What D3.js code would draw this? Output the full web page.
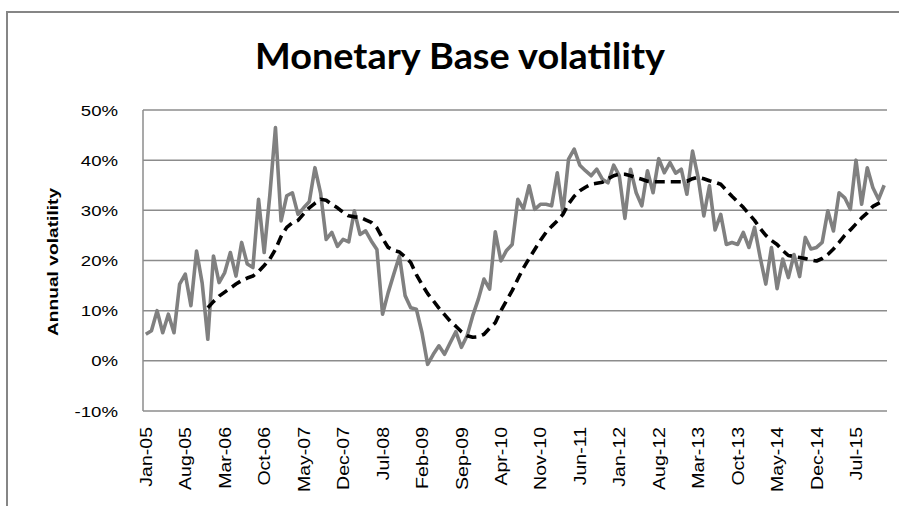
<!DOCTYPE html>
<html>
<head>
<meta charset="utf-8">
<script src="https://cdn.jsdelivr.net/npm/d3@7"></script>
<style>
  body { margin: 0; background: #fff; }
  svg { display: block; }
</style>
</head>
<body>
<div id="chart"></div>
<script>
// monthly categories Jan-05 .. Dec-15
const months = d3.timeMonth.range(new Date(2005, 0, 1), new Date(2016, 0, 1));
const fmt = d3.timeFormat("%b-%y");

// annual volatility (%)
const volatility = [
  5.3, 6.0, 10.0, 5.6, 9.3, 5.6, 15.3, 17.3, 11.0, 21.9, 15.5, 4.3,
  20.9, 15.6, 17.6, 21.6, 16.9, 23.6, 19.3, 18.6, 32.2, 21.6, 33.0, 46.5,
  27.9, 32.9, 33.5, 29.2, 30.5, 31.7, 38.5, 33.5, 24.2, 25.6, 22.8, 24.2,
  23.7, 29.9, 25.2, 25.9, 23.9, 22.2, 9.3, 13.6, 17.3, 20.9, 13.0, 10.6,
  10.3, 5.6, -0.7, 1.3, 3.0, 1.3, 3.6, 5.8, 2.7, 5.0, 9.0, 12.3,
  16.3, 14.3, 25.7, 19.9, 22.0, 23.2, 32.2, 30.3, 34.9, 30.2, 31.2, 31.2,
  30.9, 37.5, 29.6, 40.2, 42.2, 39.0, 37.9, 36.9, 38.2, 36.2, 35.5, 39.0,
  36.9, 28.4, 38.2, 33.5, 30.9, 37.9, 33.5, 40.3, 37.5, 39.5, 37.4, 38.2,
  33.2, 41.8, 36.5, 28.9, 34.9, 26.1, 29.2, 23.2, 23.6, 23.2, 25.6, 22.6,
  26.6, 20.6, 15.3, 22.6, 14.4, 20.3, 16.6, 21.2, 16.8, 24.6, 22.3, 22.6,
  23.6, 29.9, 25.9, 33.5, 32.5, 30.2, 40.0, 31.2, 38.5, 34.5, 32.2, 35.0
];

// dashed trend line (%), starts Dec-05
const trend = [
  null, null, null, null, null, null, null, null, null, null, null, 10.6,
  11.8, 12.9, 13.7, 14.5, 15.3, 16.0, 16.5, 16.9, 17.8, 19.0, 20.3, 22.2,
  24.8, 26.6, 27.5, 28.0, 29.3, 30.5, 31.4, 32.2, 32.0, 31.2, 30.5, 29.6,
  28.9, 28.7, 28.6, 28.1, 27.6, 26.5, 24.4, 22.6, 22.0, 21.7, 20.7, 19.6,
  17.2, 15.2, 13.4, 12.0, 10.5, 9.2, 7.9, 6.9, 5.8, 5.0, 4.7, 4.8,
  5.3, 6.5, 7.6, 10.0, 12.0, 14.0, 16.3, 18.5, 20.4, 22.2, 24.0, 25.6,
  26.8, 27.9, 29.2, 31.3, 32.8, 33.9, 34.6, 35.2, 35.4, 35.6, 36.3, 36.9,
  37.2, 37.2, 36.9, 36.5, 36.2, 35.8, 35.7, 35.7, 35.7, 35.7, 35.7, 35.7,
  35.8, 36.3, 36.6, 36.3, 35.9, 35.6, 35.2, 34.0, 32.8, 31.7, 30.6, 29.3,
  28.0, 26.4, 25.0, 24.0, 23.2, 22.0, 21.0, 20.8, 20.6, 20.4, 20.1, 19.9,
  20.4, 21.2, 22.3, 23.6, 25.0, 26.1, 27.3, 28.5, 29.5, 30.8, 31.4, 32.0
];

const tickLabels = ["Jan-05", "Aug-05", "Mar-06", "Oct-06", "May-07", "Dec-07", "Jul-08",
  "Feb-09", "Sep-09", "Apr-10", "Nov-10", "Jun-11", "Jan-12", "Aug-12", "Mar-13",
  "Oct-13", "May-14", "Dec-14", "Jul-15"];
const yTicks = [-10, 0, 10, 20, 30, 40, 50];

const width = 899, height = 506;
const plot = { left: 143, right: 887, top: 110, bottom: 411 };

const svg = d3.select("#chart")
    .append("svg")
    .attr("width", width)
    .attr("height", height);

// chart frame
svg.append("rect")
    .attr("x", 7).attr("y", 12)
    .attr("width", 910).attr("height", 520)
    .attr("fill", "#fff")
    .attr("stroke", "#868686")
    .attr("stroke-width", 2);

const x = d3.scaleBand()
    .domain(d3.range(months.length))
    .range([plot.left, plot.right])
    .padding(0);
const xc = (i) => x(i) + x.bandwidth() / 2;

const y = d3.scaleLinear()
    .domain([-10, 50])
    .range([plot.bottom, plot.top]);

// gridlines
svg.append("g")
    .selectAll("line")
    .data(yTicks)
    .enter()
    .append("line")
    .attr("x1", plot.left).attr("x2", plot.right)
    .attr("y1", (d) => y(d)).attr("y2", (d) => y(d))
    .attr("stroke", "#8c8c8c")
    .attr("stroke-width", 1.5);

// y axis line
svg.append("line")
    .attr("x1", plot.left).attr("x2", plot.left)
    .attr("y1", plot.top).attr("y2", plot.bottom)
    .attr("stroke", "#8c8c8c")
    .attr("stroke-width", 1.5);

// y tick labels
svg.append("g")
    .selectAll("text")
    .data(yTicks)
    .enter()
    .append("text")
    .attr("transform", (d) => `translate(118,${y(d)}) scale(1.2,1)`)
    .attr("dy", "0.36em")
    .attr("text-anchor", "end")
    .attr("font-family", "Liberation Sans, Arial, sans-serif")
    .attr("font-size", 15.5)
    .attr("fill", "#000")
    .text((d) => d + "%");

// x tick labels
const labelIdx = months.map((m, i) => i).filter((i) => tickLabels.includes(fmt(months[i])));
svg.append("g")
    .selectAll("text")
    .data(labelIdx)
    .enter()
    .append("text")
    .attr("transform", (i) => `translate(${xc(i)},427) rotate(-90) scale(1.15,1)`)
    .attr("dy", "0.36em")
    .attr("text-anchor", "end")
    .attr("font-family", "Liberation Sans, Arial, sans-serif")
    .attr("font-size", 17)
    .attr("fill", "#000")
    .text((i) => fmt(months[i]));

// axis title
svg.append("text")
    .attr("transform", "translate(53,262) rotate(-90) scale(1.28,1)")
    .attr("dy", "0.36em")
    .attr("text-anchor", "middle")
    .attr("font-family", "Liberation Sans, Arial, sans-serif")
    .attr("font-weight", "bold")
    .attr("font-size", 15)
    .attr("fill", "#000")
    .text("Annual volatility");

// title
svg.append("text")
    .attr("x", 460).attr("y", 69)
    .attr("text-anchor", "middle")
    .attr("font-family", "Lato, Open Sans, sans-serif")
    .attr("font-weight", "bold")
    .attr("font-size", 36)
    .attr("textLength", 410)
    .attr("lengthAdjust", "spacingAndGlyphs")
    .attr("fill", "#000")
    .text("Monetary Base volatility");

const line = d3.line()
    .defined((d) => d != null)
    .x((d, i) => xc(i))
    .y((d) => y(d));

svg.append("path")
    .datum(volatility)
    .attr("d", line)
    .attr("fill", "none")
    .attr("stroke", "#808080")
    .attr("stroke-width", 3.6)
    .attr("stroke-linejoin", "round");

svg.append("path")
    .datum(trend)
    .attr("d", line)
    .attr("fill", "none")
    .attr("stroke", "#000")
    .attr("stroke-width", 3.6)
    .attr("stroke-dasharray", "10,6")
    .attr("stroke-linejoin", "round");
</script>
</body>
</html>
